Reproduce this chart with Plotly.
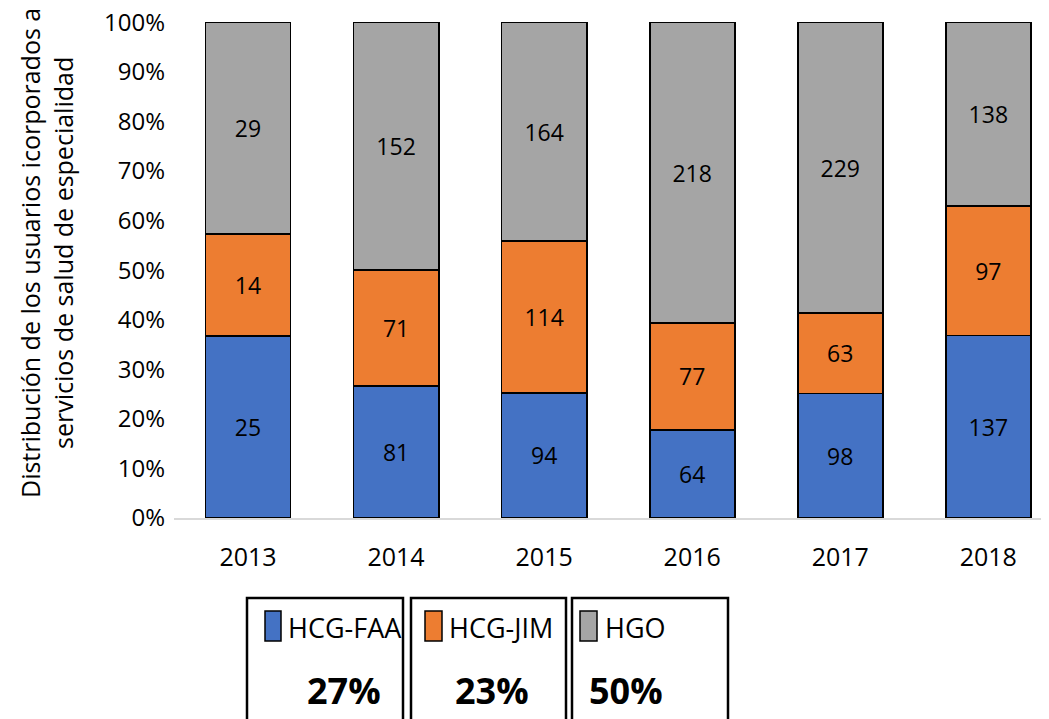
import plotly.graph_objects as go

years = ["2013", "2014", "2015", "2016", "2017", "2018"]
hcg_faa = [25, 81, 94, 64, 98, 137]
hcg_jim = [14, 71, 114, 77, 63, 97]
hgo = [29, 152, 164, 218, 229, 138]
series_names = ["HCG-FAA", "HCG-JIM", "HGO"]
colors = ["#4472C4", "#ED7D31", "#A5A5A5"]
y_ticks = list(range(0, 101, 10))
y_title = "Distribución de los usuarios icorporados a<br>servicios de salud de especialidad"

FONT = "Open Sans, Lato, sans-serif"
OFF = 8  # page body margin
W, H = 1049 - OFF, 719 - OFF
L, R, T = 174 - OFF, 0, 22 - OFF
B = H - (518 - OFF)
PW, PH = W - L - R, H - T - B

fig = go.Figure()
for name, vals, col in zip(series_names, [hcg_faa, hcg_jim, hgo], colors):
    fig.add_trace(go.Bar(
        x=years, y=vals, name=name, marker=dict(color=col, line=dict(color="black", width=1.8)),
        text=[str(v) for v in vals], textposition="inside", insidetextanchor="middle",
        textangle=0, textfont=dict(family=FONT, size=23, color="black"),
        width=0.575, showlegend=False,
    ))

fig.update_layout(
    width=W, height=H, barmode="stack", barnorm="percent",
    margin=dict(l=L, r=R, t=T, b=B, autoexpand=False),
    plot_bgcolor="white", paper_bgcolor="white",
    font=dict(family=FONT, color="black"),
    xaxis=dict(range=[-0.5, 5.41], showline=True, linecolor="#D9D9D9", linewidth=2,
               ticks="", tickfont=dict(size=25), ticklabelstandoff=16, showgrid=False),
    yaxis=dict(range=[0, 100.05], tickmode="array", tickvals=y_ticks,
               ticktext=[f"{v}%" for v in y_ticks], showgrid=False, showline=False,
               zeroline=False, tickfont=dict(size=24), ticklabelstandoff=8,
               ticklabeloverflow="allow"),
    uniformtext=dict(minsize=10, mode="show"),
)

# helpers: reference-image pixel -> paper coordinates
def px2x(p):
    return (p - OFF - L) / PW

def px2y(p):
    return (H - B - (p - OFF)) / PH

fig.add_annotation(text=y_title, xref="paper", yref="paper", x=px2x(46), y=px2y(253),
                   textangle=-90, showarrow=False, font=dict(size=25, family=FONT),
                   xanchor="center", yanchor="middle")

totals = [sum(v) for v in (hcg_faa, hcg_jim, hgo)]
grand = sum(totals)
shares = [round(100 * t / grand) for t in totals]

boxes = [(247, 403), (411, 566), (572, 728)]
markers = [(265, 281), (425, 442), (580, 597)]
text_left = [286, 447, 603]
pct_center = [344, 492, 626]
for i in range(3):
    bx0, bx1 = boxes[i]
    fig.add_shape(type="rect", xref="paper", yref="paper", x0=px2x(bx0), x1=px2x(bx1),
                  y0=px2y(598), y1=px2y(760), line=dict(color="black", width=2.5),
                  fillcolor="white", layer="above")
    mx0, mx1 = markers[i]
    fig.add_shape(type="rect", xref="paper", yref="paper", x0=px2x(mx0), x1=px2x(mx1),
                  y0=px2y(641), y1=px2y(611), line=dict(color="black", width=1.5),
                  fillcolor=colors[i], layer="above")
    fig.add_annotation(text=series_names[i], xref="paper", yref="paper", x=px2x(text_left[i]),
                       y=px2y(627), xanchor="left", yanchor="middle", showarrow=False,
                       font=dict(size=27, family=FONT))
    fig.add_annotation(text=f"<b>{shares[i]}%</b>", xref="paper", yref="paper",
                       x=px2x(pct_center[i]), y=px2y(690), xanchor="center", yanchor="middle",
                       showarrow=False, font=dict(size=36, family=FONT))

fig.write_html("out.html")
